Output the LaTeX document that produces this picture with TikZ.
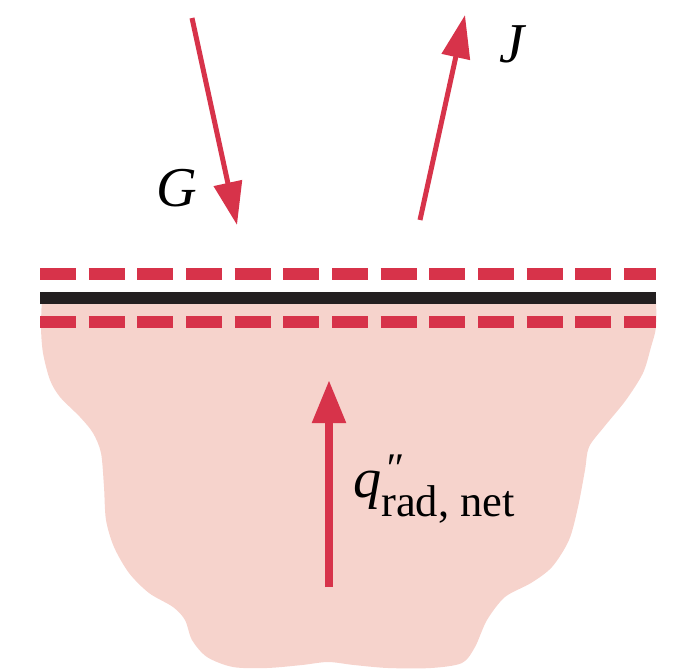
\documentclass[tikz,border=0pt]{standalone}
\usepackage{fontspec}
\setmainfont{Liberation Serif}
\usetikzlibrary{arrows.meta}
\definecolor{crojo}{HTML}{D7334A}
\definecolor{crosa}{HTML}{F6D3CC}
\definecolor{cnegro}{HTML}{231F20}
\tikzset{
  flecha/.style={-{Triangle[length=1.29cm,width=0.84cm]},draw=crojo,line width=0.15cm},
  flechaq/.style={flecha,line width=0.25cm,-{Triangle[length=1.29cm,width=0.96cm]}},
  raya/.style={draw=crojo,line width=0.36cm,dash pattern=on 1.08cm off 0.38cm},
  pared/.style={draw=cnegro,line width=0.36cm},
  et/.style={font=\fontsize{48}{50}\selectfont\itshape,inner sep=0pt},
}

\begin{document}
\begin{tikzpicture}[x=0.03cm,y=-0.03cm]
\useasboundingbox (0,0) rectangle (673,669);

% medio
\fill[crosa] plot[smooth] coordinates {(42,298) (41,327) (43,353) (50,380) (60,397)
  (80,417) (93,433) (101,453) (104,487) (106,520) (114,547) (129,573) (149,593)
  (173,607) (185,620) (192,640) (207,657) (233,667) (267,668) (302,665) (328,662)
  (354,665) (388,668) (431,668) (462,663) (475,647) (487,620) (505,597) (531,583)
  (552,567) (569,540) (578,507) (585,470) (589,447) (604,427) (626,400) (643,373)
  (651,347) (656,327) (656,298)} -- cycle;

% superficie
\coordinate (s1) at (40,274);  \coordinate (s2) at (656,274);
\coordinate (p1) at (40,298);  \coordinate (p2) at (656,298);
\coordinate (i1) at (40,322);  \coordinate (i2) at (656,322);
\draw[raya] (s1) -- (s2);
\draw[pared] (p1) -- (p2);
\draw[raya] (i1) -- (i2);

% flechas
\coordinate (g0) at (192,18);  \coordinate (g1) at (237,225);
\coordinate (j0) at (420,220); \coordinate (j1) at (465,15);
\coordinate (q0) at (329,587); \coordinate (q1) at (329,380);
\draw[flecha] (g0) -- (g1);
\draw[flecha] (j0) -- (j1);
\draw[flechaq] (q0) -- (q1);

% etiquetas
\node[et] (lg) at (177,188) {G};
\node[et] (lj) at (512,44) {J};
\node[et,anchor=base west] (lq) at (353,497)
  {q\rlap{\hspace{0.05em}\raisebox{0.25em}{\fontsize{36}{36}\selectfont ″}}%
   \raisebox{-0.35em}{\upshape\fontsize{38}{40}\selectfont rad, net}};

\end{tikzpicture}
\end{document}
